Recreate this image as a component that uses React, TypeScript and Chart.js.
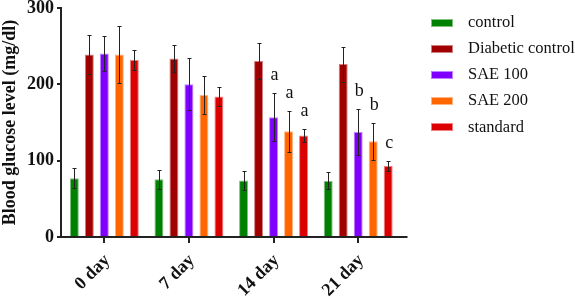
import { useEffect, useRef } from 'react';
import { Chart, registerables } from 'chart.js';

Chart.register(...registerables);

const categories = ['0 day', '7 day', '14 day', '21 day'];
const seriesNames = ['control', 'Diabetic control', 'SAE 100', 'SAE 200', 'standard'];

const controlValues = [77, 75.5, 74, 73.5];
const controlErrors = [13, 12, 12, 11];
const diabeticValues = [239, 234, 230.5, 226.5];
const diabeticErrors = [25, 18, 23, 23];
const sae100Values = [240.5, 200, 157, 137.5];
const sae100Errors = [23, 34, 31, 30];
const sae200Values = [239, 186, 138.5, 125.5];
const sae200Errors = [37, 25, 27, 24.5];
const standardValues = [232, 184, 133, 93];
const standardErrors = [13, 13, 9, 7];

const controlLetters = ['', '', '', ''];
const diabeticLetters = ['', '', '', ''];
const sae100Letters = ['', '', 'a', 'b'];
const sae200Letters = ['', '', 'a', 'b'];
const standardLetters = ['', '', 'a', 'c'];

const yTicks = [0, 100, 200, 300];

const seriesColors = ['#008000', '#a00000', '#8000ff', '#ff6600', '#dd0000'];
const seriesEdge = ['#80c080', '#d08080', '#c080ff', '#ffb380', '#ee8080'];

const FONT = "'Liberation Serif', 'Times New Roman', serif";
const AXIS = '#222222';

export default function App() {
  const ref = useRef<HTMLCanvasElement | null>(null);

  useEffect(() => {
    document.body.style.margin = '0';
    const canvas = ref.current;
    if (!canvas) return;

    const values = [controlValues, diabeticValues, sae100Values, sae200Values, standardValues];
    const errors = [controlErrors, diabeticErrors, sae100Errors, sae200Errors, standardErrors];
    const letters = [controlLetters, diabeticLetters, sae100Letters, sae200Letters, standardLetters];

    const extrasPlugin = {
      id: 'extras',
      afterDatasetsDraw(chart: any) {
        const ctx = chart.ctx;
        const y = chart.scales.y;
        const area = chart.chartArea;
        ctx.save();
        chart.data.datasets.forEach((ds: any, i: number) => {
          const meta = chart.getDatasetMeta(i);
          meta.data.forEach((el: any, j: number) => {
            const v = values[i][j];
            const e = errors[i][j];
            const x = Math.round(el.x) + 0.5;
            const yt = Math.round(y.getPixelForValue(v + e)) + 0.5;
            const yb = Math.round(y.getPixelForValue(v - e)) + 0.5;
            ctx.strokeStyle = AXIS;
            ctx.lineWidth = 1;
            ctx.beginPath();
            ctx.moveTo(x, yt);
            ctx.lineTo(x, yb);
            ctx.moveTo(x - 2, yt);
            ctx.lineTo(x + 2, yt);
            ctx.moveTo(x - 2, yb);
            ctx.lineTo(x + 2, yb);
            ctx.stroke();
            const letter = letters[i][j];
            if (letter) {
              ctx.fillStyle = '#111';
              ctx.font = `18px ${FONT}`;
              ctx.textAlign = 'center';
              ctx.textBaseline = 'alphabetic';
              ctx.fillText(letter, el.x + 1, yt - 14);
            }
          });
        });
        ctx.strokeStyle = AXIS;
        ctx.lineWidth = 2;
        ctx.beginPath();
        ctx.moveTo(area.left - 1, y.getPixelForValue(300));
        ctx.lineTo(area.left - 1, area.bottom + 1);
        ctx.moveTo(area.left - 1, area.bottom);
        ctx.lineTo(area.right + 7, area.bottom);
        ctx.stroke();
        const lx = 431;
        const ly0 = 22.5;
        const step = 26.2;
        chart.data.datasets.forEach((ds: any, i: number) => {
          const cy = ly0 + i * step;
          ctx.fillStyle = seriesEdge[i];
          ctx.fillRect(lx, Math.round(cy - 4), 22, 8);
          ctx.fillStyle = seriesColors[i];
          ctx.fillRect(lx + 1, Math.round(cy - 4) + 1, 20, 6);
          ctx.fillStyle = '#111';
          ctx.font = `16.5px ${FONT}`;
          ctx.textAlign = 'left';
          ctx.textBaseline = 'middle';
          ctx.fillText(ds.label, 468, cy);
        });
        ctx.restore();
      },
    };

    const chart = new Chart(canvas, {
      type: 'bar',
      data: {
        labels: categories,
        datasets: seriesNames.map((name, i) => ({
          label: name,
          data: values[i],
          backgroundColor: seriesColors[i],
          borderColor: seriesEdge[i],
          borderWidth: 1,
          borderSkipped: 'start',
          categoryPercentage: 0.886,
          barPercentage: 0.6,
        })),
      },
      options: {
        responsive: false,
        animation: false,
        devicePixelRatio: 1,
        layout: { padding: { top: 8, right: 174.5, bottom: 0, left: 0 } },
        plugins: {
          legend: { display: false },
          tooltip: { enabled: false },
        },
        scales: {
          x: {
            afterFit(scale: any) {
              scale.height = 62;
              scale.paddingLeft = 0;
              scale.paddingRight = 0;
            },
            border: { display: false },
            grid: {
              offset: false,
              drawOnChartArea: false,
              drawTicks: true,
              tickLength: 6,
              lineWidth: 2,
              color: AXIS,
            },
            ticks: {
              autoSkip: false,
              maxRotation: 45,
              minRotation: 45,
              padding: 7,
              labelOffset: 3,
              color: '#111',
              font: { family: FONT, size: 18, weight: 'bold' },
            },
          },
          y: {
            min: 0,
            max: 300,
            afterFit(scale: any) {
              scale.width = 62;
              scale.paddingTop = 0;
              scale.paddingBottom = 0;
            },
            afterBuildTicks(scale: any) {
              scale.ticks = yTicks.map((v) => ({ value: v }));
            },
            border: { display: false },
            grid: {
              drawOnChartArea: false,
              drawTicks: true,
              tickLength: 5,
              lineWidth: 2,
              color: AXIS,
            },
            ticks: {
              padding: 3,
              color: '#111',
              font: { family: FONT, size: 18, weight: 'bold', lineHeight: 1 },
            },
            title: {
              display: true,
              text: 'Blood glucose level (mg/dl)',
              color: '#111',
              padding: { top: 0, bottom: 0 },
              font: { family: FONT, size: 18, weight: 'bold' },
            },
          },
        },
      },
      plugins: [extrasPlugin],
    });

    return () => chart.destroy();
  }, []);

  return (
    <div style={{ width: 575, height: 299, position: 'relative' }}>
      <canvas ref={ref} width={575} height={299} style={{ display: 'block' }} />
    </div>
  );
}
